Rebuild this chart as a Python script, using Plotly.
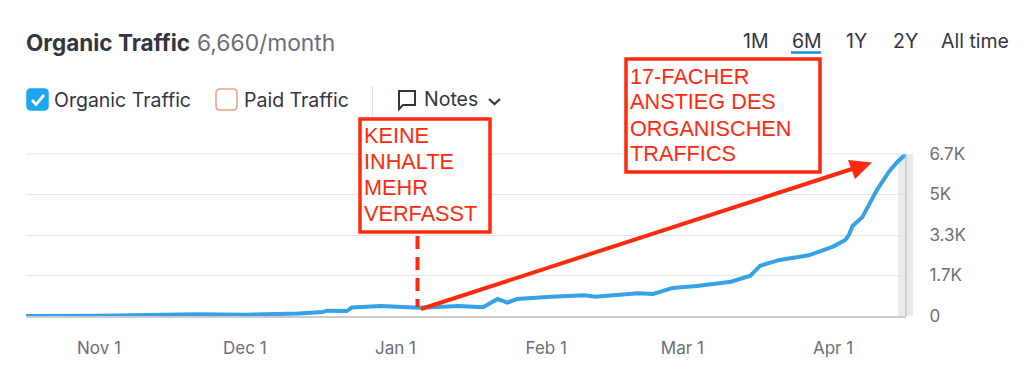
import plotly.graph_objects as go

dates = ["2020-10-17","2020-11-01","2020-11-21","2020-12-01","2020-12-12","2020-12-17","2020-12-18","2020-12-22","2020-12-23",
         "2020-12-29","2021-01-06","2021-01-14","2021-01-19","2021-01-22","2021-01-24","2021-01-26","2021-02-02","2021-02-09",
         "2021-02-11","2021-02-20","2021-02-23","2021-02-27","2021-03-04","2021-03-11","2021-03-15","2021-03-17","2021-03-21",
         "2021-03-27","2021-04-01","2021-04-03 12:00","2021-04-04 06:00","2021-04-05","2021-04-07","2021-04-08","2021-04-10",
         "2021-04-12 12:00","2021-04-14 06:00","2021-04-16"]
organic = [0,10,70,55,100,165,220,205,350,415,345,410,360,700,550,700,800,855,800,940,910,1160,1240,1420,1670,2080,2320,
           2510,2870,3140,3350,3720,4080,4470,5210,5970,6380,6700]
y_ticks = [0,1675,3350,5025,6700]
y_labels = ["0","1.7K","3.3K","5K","6.7K"]
x_ticks = ["2020-11-01","2020-12-01","2021-01-01","2021-02-01","2021-03-01","2021-04-01"]
x_labels = ["Nov 1","Dec 1","Jan 1","Feb 1","Mar 1","Apr 1"]
range_labels = ["1M","6M","1Y","2Y","All time"]
box1_lines = ["KEINE","INHALTE","MEHR","VERFASST"]
box2_lines = ["17-FACHER","ANSTIEG DES","ORGANISCHEN","TRAFFICS"]

W, H = 1024, 378
L, R, T, B = 26, 906, 154, 316
def px(x): return (x - L) / (R - L)
def py(y): return (B - y) / (B - T)

RED = "#ff2a0d"
BLUE = "#35a1e6"
GRAY = "#6c6e79"
DARK = "#333541"
GRID = "#e4e5e8"
FONT = "Inter, sans-serif"

fig = go.Figure(go.Scatter(x=dates, y=organic, mode="lines", cliponaxis=False,
                           line=dict(color=BLUE, width=4), hoverinfo="skip"))

shapes = []
def rect(x0, y0, x1, y1, **kw):
    shapes.append(dict(type="rect", xref="paper", yref="paper", x0=px(x0), x1=px(x1), y0=py(y0), y1=py(y1), **kw))
def line(x0, y0, x1, y1, color, width, dash="solid"):
    shapes.append(dict(type="line", xref="paper", yref="paper", x0=px(x0), x1=px(x1), y0=py(y0), y1=py(y1),
                       line=dict(color=color, width=width, dash=dash)))
def path(points, closed=True, **kw):
    d = "M " + " L ".join(f"{px(a):.5f},{py(b):.5f}" for a, b in points) + (" Z" if closed else "")
    shapes.append(dict(type="path", xref="paper", yref="paper", path=d, **kw))
def rrect(x0, y0, x1, y1, r, **kw):
    p = lambda a, b: f"{px(a):.5f},{py(b):.5f}"
    d = (f"M {p(x0+r,y0)} L {p(x1-r,y0)} Q {p(x1,y0)} {p(x1,y0+r)} L {p(x1,y1-r)} Q {p(x1,y1)} {p(x1-r,y1)} "
         f"L {p(x0+r,y1)} Q {p(x0,y1)} {p(x0,y1-r)} L {p(x0,y0+r)} Q {p(x0,y0)} {p(x0+r,y0)} Z")
    shapes.append(dict(type="path", xref="paper", yref="paper", path=d, **kw))

# scrollbar band, its edge, and the top gridline
rect(898, 154, 913, 316, fillcolor="#e8eaec", line_width=0, layer="below")
line(26, 154, 906, 154, GRID, 1.2)
line(906, 154, 906, 316, "#c4c6ca", 1.5)

# header widgets
rrect(27, 89, 48, 110, 4, fillcolor="#1da6f3", line=dict(color="#1da6f3", width=1.5))
path([(32, 100), (36, 104.5), (44, 95)], closed=False, line=dict(color="white", width=2.8))
rrect(216, 89, 237, 110, 4, fillcolor="white", line=dict(color="#eda27c", width=1.5))
line(372.5, 86, 372.5, 115, "#dcdde0", 1.2)
path([(399, 91), (415, 91), (415, 105), (403, 105), (399, 109)], line=dict(color=DARK, width=2), fillcolor="rgba(0,0,0,0)")
path([(489, 99), (494.5, 104), (500, 99)], closed=False, line=dict(color=DARK, width=2.2))
line(791, 52.5, 821, 52.5, "#1b8fe0", 2.5)

# red annotation boxes and arrows
rect(360, 119, 490, 232, fillcolor="white", line=dict(color=RED, width=3.5))
rect(626, 59, 820, 172, fillcolor="white", line=dict(color=RED, width=3.5))
line(417.5, 236, 417.5, 307, RED, 4, "13px,8px")
line(421, 309, 855, 168, RED, 4)
path([(872, 162.5), (848, 160), (855, 179)], fillcolor=RED, line_width=0)

anns = []
def text(x, y, s, size, color, anchor="left", bold=False, family=FONT):
    anns.append(dict(xref="paper", yref="paper", x=px(x), y=py(y), text=f"<b>{s}</b>" if bold else s, showarrow=False,
                     xanchor=anchor, yanchor="middle", font=dict(size=size, color=color, family=family)))

text(24, 42, "Organic Traffic", 22.5, DARK, bold=True)
text(195, 42, "6,660/month", 22.8, GRAY)
text(52, 100, "Organic Traffic", 19.5, DARK)
text(242, 100, "Paid Traffic", 19.5, DARK)
text(422, 99, "Notes", 19.5, DARK)
for x, s in zip([741, 790, 844, 891, 939], range_labels):
    text(x, 41, s, 19.5, DARK)

SANS = "Liberation Sans, Arial, sans-serif"
for y, s in zip([135, 161, 187, 213], box1_lines):
    text(362, y, s, 21.7, RED, family=SANS)
for y, s in zip([76, 102, 128, 153], box2_lines):
    text(628, y, s, 21.7, RED, family=SANS)

fig.update_layout(
    width=W, height=H, margin=dict(l=L, r=W - R, t=T, b=H - B, pad=0),
    paper_bgcolor="white", plot_bgcolor="white", showlegend=False,
    shapes=shapes, annotations=anns,
    xaxis=dict(range=["2020-10-17", "2021-04-16"], tickmode="array", tickvals=x_ticks, ticktext=x_labels,
               showgrid=False, zeroline=False, showline=True, linecolor="#c9cbcf", linewidth=1.5,
               ticks="outside", ticklen=16, tickcolor="rgba(0,0,0,0)",
               tickfont=dict(size=17, color=GRAY, family=FONT)),
    yaxis=dict(range=[0, 6700], side="right", tickmode="array", tickvals=y_ticks, ticktext=y_labels,
               showgrid=True, gridcolor=GRID, gridwidth=1.2, zeroline=False,
               ticks="outside", ticklen=19, tickcolor="rgba(0,0,0,0)",
               tickfont=dict(size=17, color=GRAY, family=FONT)),
)
fig.write_html("out.html", config=dict(displayModeBar=False),
               post_script="document.body.style.margin='0';document.documentElement.style.overflow='hidden';")
